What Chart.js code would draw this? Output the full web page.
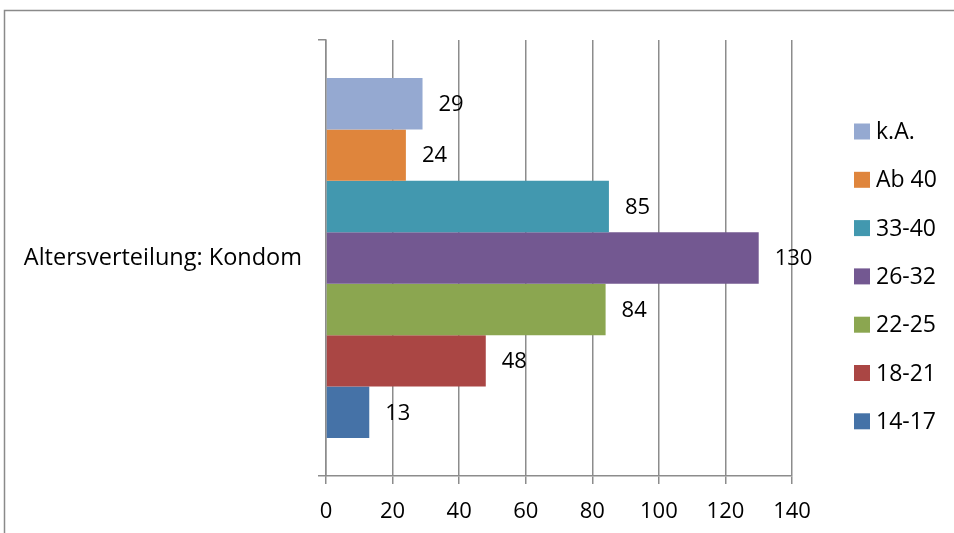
<!DOCTYPE html>
<html>
<head>
<meta charset="utf-8">
<script src="https://cdn.jsdelivr.net/npm/chart.js@4.4.1/dist/chart.umd.min.js"></script>
<style>
  html, body { margin: 0; padding: 0; background: #fff; }
  #wrap { width: 954px; height: 533px; }
</style>
</head>
<body>
<div id="wrap"><canvas id="chart" width="954" height="533"></canvas></div>
<script>
// Daten (oberster Balken zuerst)
const categories = ['Altersverteilung: Kondom'];
const seriesNames = ['k.A.', 'Ab 40', '33-40', '26-32', '22-25', '18-21', '14-17'];
const seriesValues = [29, 24, 85, 130, 84, 48, 13];
const seriesColors = ['#95A9D1', '#DF853C', '#4298AF', '#735891', '#8BA650', '#AA4644', '#4572A7'];
const xTicks = [0, 20, 40, 60, 80, 100, 120, 140];

const FONT = "'Open Sans', 'Noto Sans', sans-serif";
const GRID = '#8c8c8c';

// Rahmen um das ganze Diagramm
const framePlugin = {
    id: 'frame',
    beforeDraw(chart) {
        const ctx = chart.ctx;
        ctx.save();
        ctx.strokeStyle = '#8a8a8a';
        ctx.lineWidth = 1.5;
        ctx.strokeRect(4.5, 10.5, 980, 560);
        ctx.restore();
    }
};

// Werte rechts neben den Balken
const valueLabels = {
    id: 'valueLabels',
    afterDatasetsDraw(chart) {
        const ctx = chart.ctx;
        ctx.save();
        ctx.font = '22px ' + FONT;
        ctx.fillStyle = '#000';
        ctx.textAlign = 'left';
        ctx.textBaseline = 'middle';
        chart.data.datasets.forEach((ds, i) => {
            chart.getDatasetMeta(i).data.forEach((bar, j) => {
                ctx.fillText(String(ds.data[j]), bar.x + 16, bar.y + 1);
            });
        });
        ctx.restore();
    }
};

// Legende rechts, wie im Original
const sideLegend = {
    id: 'sideLegend',
    afterDraw(chart) {
        const ctx = chart.ctx;
        const x = 854, y0 = 131.5, step = 48.3, box = 16;
        ctx.save();
        ctx.font = '23px ' + FONT;
        ctx.textAlign = 'left';
        ctx.textBaseline = 'middle';
        chart.data.datasets.forEach((ds, i) => {
            const y = y0 + i * step;
            ctx.fillStyle = ds.backgroundColor;
            ctx.fillRect(x, y - box / 2, box, box);
            ctx.fillStyle = '#000';
            ctx.fillText(ds.label, x + 22, y + 1);
        });
        ctx.restore();
    }
};

const ctx = document.getElementById('chart').getContext('2d');
new Chart(ctx, {
    type: 'bar',
    data: {
        labels: categories,
        datasets: seriesNames.map((name, i) => ({
            label: name,
            data: [seriesValues[i]],
            backgroundColor: seriesColors[i],
            borderWidth: 0,
            categoryPercentage: 0.826,
            barPercentage: 1.0
        }))
    },
    options: {
        indexAxis: 'y',
        responsive: false,
        animation: false,
        layout: { padding: { top: 40, right: 162, bottom: 0, left: 0 } },
        plugins: {
            legend: { display: false },
            tooltip: { enabled: false }
        },
        scales: {
            x: {
                min: 0,
                max: 140,
                afterBuildTicks: (scale) => { scale.ticks = xTicks.map(v => ({ value: v })); },
                afterFit: (scale) => { scale.height = 57; },
                grid: { color: GRID, lineWidth: 1.5, tickLength: 8, drawTicks: true },
                border: { color: GRID, width: 1.5 },
                ticks: { color: '#000', font: { family: FONT, size: 22 }, padding: 14.5, maxRotation: 0 }
            },
            y: {
                offset: true,
                afterFit: (scale) => { scale.width = 326; },
                grid: { drawOnChartArea: false, color: GRID, lineWidth: 1.5, tickLength: 8, offset: true },
                border: { color: GRID, width: 1.5 },
                ticks: { color: '#000', font: { family: FONT, size: 23.5 }, padding: 16 }
            }
        }
    },
    plugins: [framePlugin, valueLabels, sideLegend]
});
</script>
</body>
</html>
